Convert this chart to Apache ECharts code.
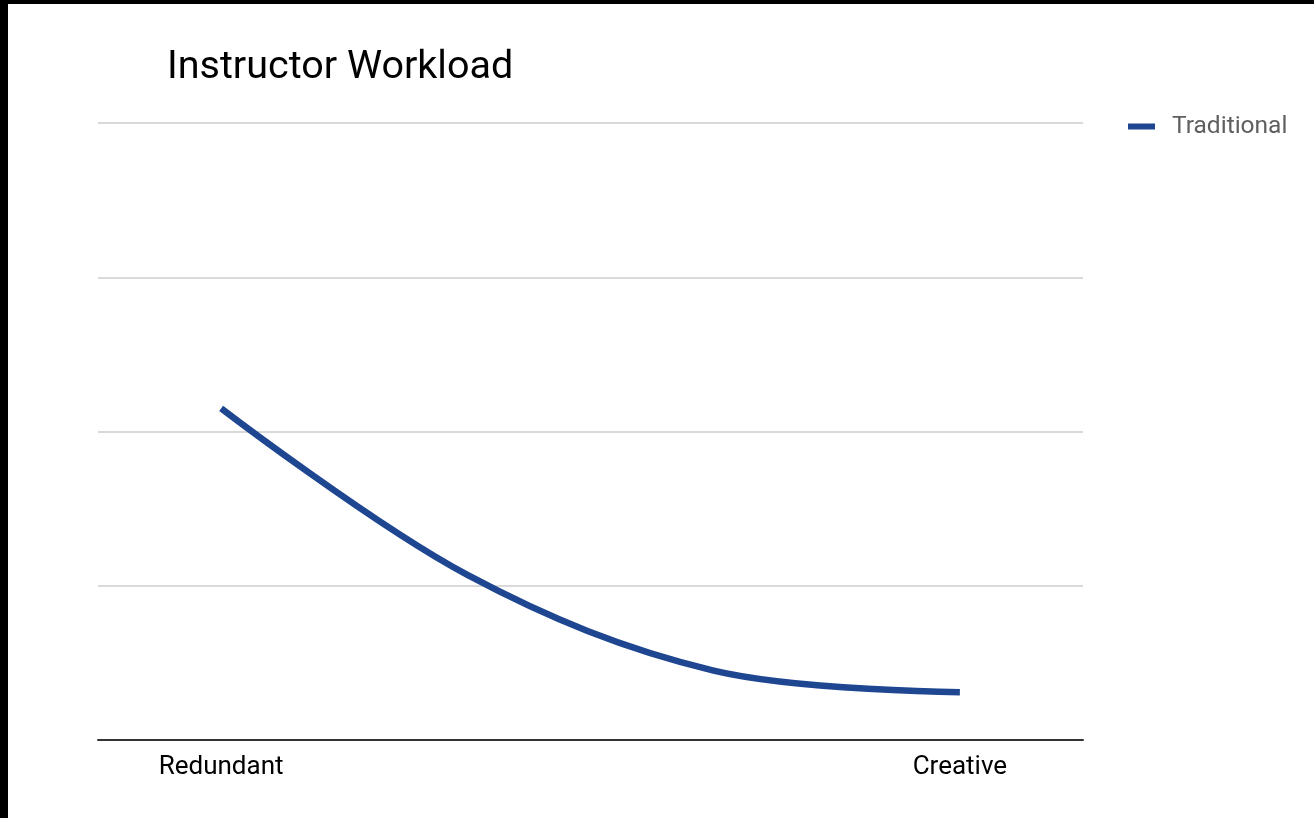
<!DOCTYPE html>
<html>
<head>
<meta charset="utf-8">
<script src="https://cdn.jsdelivr.net/npm/echarts@6/dist/echarts.min.js"></script>
<style>
  html, body { margin: 0; padding: 0; background: #000; width: 1314px; height: 818px; overflow: hidden; }
  #chart { position: absolute; left: 8px; top: 4px; width: 1306px; height: 814px; background: #fff; }
</style>
</head>
<body>
<div id="chart"></div>
<script>
const categories = ['Redundant', '', '', 'Creative'];
const seriesName = 'Traditional';
const traditionalValues = [2.15, 1.07, 0.45, 0.31];
const yMin = 0, yMax = 4, yInterval = 1;

const chart = echarts.init(document.getElementById('chart'));
chart.setOption({
  animation: false,
  backgroundColor: '#fff',
  title: {
    text: 'Instructor Workload',
    left: 154,
    top: 39,
    textStyle: { fontFamily: 'Roboto', fontSize: 39.5, fontWeight: 'normal', color: '#000' }
  },
  legend: {
    data: [seriesName],
    left: 1115,
    top: 105,
    icon: 'rect',
    itemWidth: 27,
    itemHeight: 6,
    itemGap: 10,
    textStyle: { fontFamily: 'Roboto', fontSize: 24.5, color: '#5f5f5f', padding: [0, 0, 0, 12] }
  },
  grid: { left: 90, top: 119, width: 985, height: 617, containLabel: false },
  xAxis: {
    type: 'category',
    data: categories,
    boundaryGap: true,
    axisLine: { show: true, lineStyle: { color: '#333', width: 2 } },
    axisTick: { show: false },
    axisLabel: { interval: 0, margin: 14, fontFamily: 'Roboto', fontSize: 26, color: '#000' },
    splitLine: { show: false }
  },
  yAxis: {
    type: 'value',
    min: yMin, max: yMax, interval: yInterval,
    axisLine: { show: false },
    axisTick: { show: false },
    axisLabel: { show: false },
    splitLine: { show: true, lineStyle: { color: '#ccc', width: 1.5 } }
  },
  series: [{
    name: seriesName,
    type: 'line',
    data: traditionalValues,
    smooth: 0.35,
    showSymbol: false,
    symbol: 'none',
    lineStyle: { color: '#1f4690', width: 6.5, cap: 'butt' },
    itemStyle: { color: '#1f4690' }
  }]
});
</script>
</body>
</html>
